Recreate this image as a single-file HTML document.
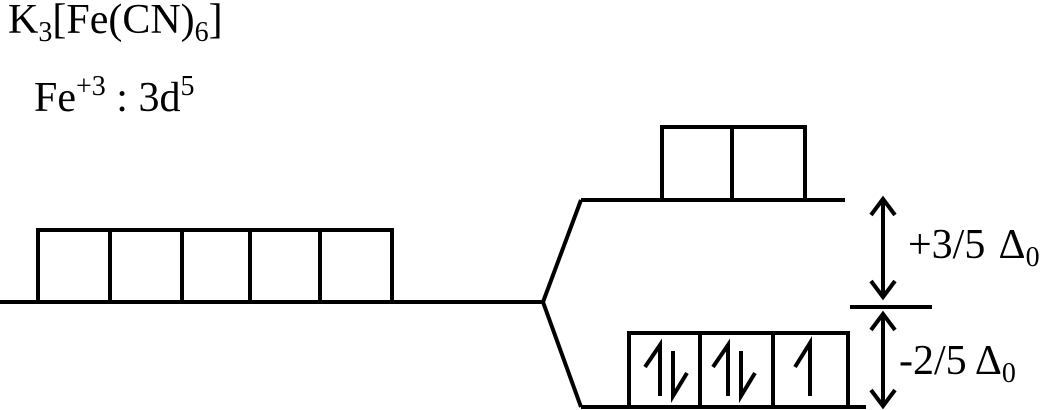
<!DOCTYPE html>
<html><head><meta charset="utf-8"><style>
html,body{margin:0;padding:0;background:#fff;}
svg{display:block;}
text{font-family:"Liberation Serif",serif;fill:#000;}
</style></head><body>
<svg width="1047" height="410" viewBox="0 0 1047 410" xmlns="http://www.w3.org/2000/svg">
<g stroke="#000" stroke-width="4" fill="none" stroke-linejoin="miter">
<line x1="0" y1="302" x2="543" y2="302"/>
<rect x="38" y="230" width="354" height="72"/>
<line x1="110" y1="230" x2="110" y2="302"/>
<line x1="182" y1="230" x2="182" y2="302"/>
<line x1="250" y1="230" x2="250" y2="302"/>
<line x1="320" y1="230" x2="320" y2="302"/>
<polyline points="581,200 543,302 581,407"/>
<line x1="581" y1="200" x2="845" y2="200"/>
<line x1="581" y1="407" x2="866" y2="407"/>
<rect x="662" y="127" width="143" height="73"/>
<line x1="732" y1="127" x2="732" y2="200"/>
<rect x="629" y="333" width="219" height="74"/>
<line x1="700" y1="333" x2="700" y2="407"/>
<line x1="773" y1="333" x2="773" y2="407"/>
<polyline points="645,367 660,345 660,396"/>
<polyline points="673,351 673,396 687,373"/>
<polyline points="713,367 728,345 728,396"/>
<polyline points="741,351 741,396 755,373"/>
<polyline points="795,367 810,343 810,396"/>
<line x1="850" y1="307" x2="932" y2="307"/>
<line x1="883" y1="199" x2="883" y2="297"/>
<polyline points="871,215 883,199 895,215"/>
<polyline points="871,281 883,297 895,281"/>
<line x1="883" y1="314" x2="883" y2="406"/>
<polyline points="871,330 883,314 895,330"/>
<polyline points="871,390 883,406 895,390"/>
</g>
<text x="8" y="33" font-size="42">K<tspan font-size="28" dy="8">3</tspan><tspan dy="-8">[Fe(CN)</tspan><tspan font-size="28" dy="8">6</tspan><tspan dy="-8">]</tspan></text>
<text x="34" y="111" font-size="42">Fe<tspan font-size="28" dy="-16">+3</tspan><tspan dy="16">&#160;: 3d</tspan><tspan font-size="28" dy="-16">5</tspan></text>
<text x="908" y="258" font-size="42">+3/5 <tspan dx="5">Δ</tspan><tspan font-size="28" dy="8">0</tspan></text>
<text x="899" y="374" font-size="42">-2/5 Δ<tspan font-size="28" dy="8">0</tspan></text>
</svg>
</body></html>
